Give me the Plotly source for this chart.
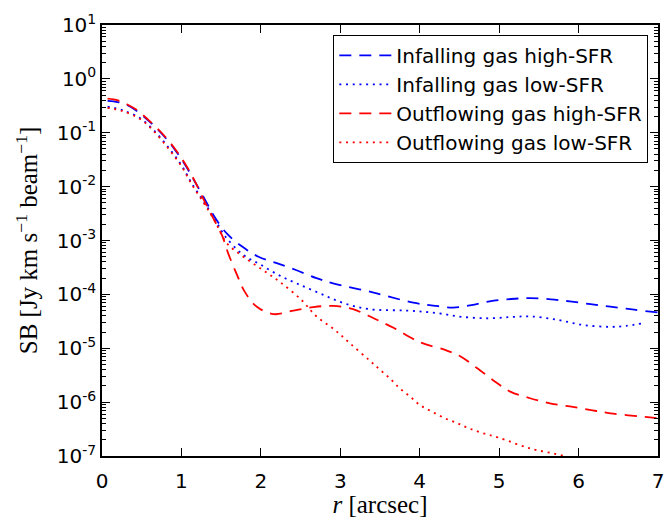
import plotly.graph_objects as go

# ---- data ----
inf_hi_x = [0.07, 0.2, 0.31, 0.43, 0.58, 0.75, 0.92, 1.05, 1.17, 1.30, 1.42, 1.57, 1.76, 1.97, 2.2, 2.45, 2.7, 2.91, 3.42, 3.92, 4.17, 4.42, 4.65, 4.88, 5.15, 5.39, 5.65, 5.89, 6.15, 6.40, 6.7, 7.0]
inf_hi_y = [0.39, 0.37, 0.33, 0.26, 0.17, 0.097, 0.048, 0.025, 0.0123, 0.0056, 0.0027, 1.35e-3, 7.8e-4, 5.0e-4, 3.8e-4, 2.8e-4, 2.0e-4, 1.6e-4, 1.08e-4, 7.0e-5, 6.2e-5, 5.7e-5, 6.3e-5, 7.4e-5, 8.2e-5, 8.5e-5, 8.1e-5, 7.4e-5, 6.6e-5, 5.9e-5, 5.2e-5, 4.6e-5]

inf_lo_x = [0.07, 0.25, 0.48, 0.65, 0.83, 1.0, 1.13, 1.28, 1.42, 1.55, 1.78, 1.99, 2.22, 2.45, 2.74, 3.04, 3.37, 3.84, 4.21, 4.55, 4.88, 5.15, 5.39, 5.72, 6.06, 6.40, 6.6, 6.8]
inf_lo_y = [0.305, 0.265, 0.186, 0.112, 0.055, 0.025, 0.0115, 0.0053, 0.0025, 1.2e-3, 5.4e-4, 3.6e-4, 2.3e-4, 1.6e-4, 1.05e-4, 6.9e-5, 5.3e-5, 5.0e-5, 4.5e-5, 3.8e-5, 3.6e-5, 3.8e-5, 3.9e-5, 3.4e-5, 2.7e-5, 2.5e-5, 2.6e-5, 2.9e-5]

out_hi_x = [0.07, 0.2, 0.31, 0.43, 0.58, 0.75, 0.92, 1.05, 1.17, 1.30, 1.40, 1.51, 1.59, 1.70, 1.80, 1.95, 2.16, 2.41, 2.66, 2.91, 3.16, 3.42, 3.67, 4.0, 4.32, 4.51, 4.72, 4.95, 5.14, 5.39, 5.64, 5.89, 6.14, 6.40, 6.90, 7.0]
out_hi_y = [0.43, 0.40, 0.34, 0.27, 0.175, 0.10, 0.05, 0.026, 0.0125, 0.0050, 0.0026, 1.26e-3, 5.7e-4, 2.3e-4, 1.1e-4, 5.9e-5, 4.3e-5, 5.0e-5, 5.8e-5, 6.1e-5, 5.3e-5, 3.6e-5, 2.4e-5, 1.3e-5, 9.3e-6, 7.1e-6, 4.3e-6, 2.4e-6, 1.57e-6, 1.18e-6, 9.5e-7, 8.3e-7, 7.2e-7, 6.2e-7, 5.2e-7, 5.0e-7]

out_lo_x = [0.07, 0.25, 0.48, 0.65, 0.83, 1.0, 1.13, 1.28, 1.42, 1.57, 1.78, 2.03, 2.24, 2.51, 2.70, 2.93, 3.12, 3.37, 3.50, 3.63, 3.75, 3.88, 4.0, 4.15, 4.32, 4.47, 4.61, 4.78, 4.99, 5.39, 5.74, 6.0, 6.5, 7.0]
out_lo_y = [0.29, 0.255, 0.18, 0.108, 0.052, 0.024, 0.011, 0.005, 0.0023, 9.0e-4, 5.0e-4, 2.8e-4, 1.7e-4, 7.9e-5, 3.9e-5, 2.2e-5, 1.24e-5, 5.9e-6, 4.0e-6, 2.7e-6, 1.8e-6, 1.26e-6, 8.9e-7, 6.7e-7, 5.0e-7, 4.1e-7, 3.3e-7, 2.7e-7, 2.2e-7, 1.38e-7, 1.07e-7, 8.5e-8, 6.0e-8, 4.0e-8]

names = ["Infalling gas high-SFR", "Infalling gas low-SFR",
         "Outflowing gas high-SFR", "Outflowing gas low-SFR"]

y_tick_vals = [1e-7, 1e-6, 1e-5, 1e-4, 1e-3, 1e-2, 1e-1, 1e0, 1e1]
y_tick_text = ["10<sup>-7</sup>", "10<sup>-6</sup>", "10<sup>-5</sup>", "10<sup>-4</sup>",
               "10<sup>-3</sup>", "10<sup>-2</sup>", "10<sup>-1</sup>", "10<sup>0</sup>", "10<sup>1</sup>"]
x_tick_vals = [0, 1, 2, 3, 4, 5, 6, 7]

DASH = "12px,8px"
DOT = "2px,4.7px"

series = [
    (inf_hi_x, inf_hi_y, names[0], "#0000ff", DASH),
    (inf_lo_x, inf_lo_y, names[1], "#0000ff", DOT),
    (out_hi_x, out_hi_y, names[2], "#ff0000", DASH),
    (out_lo_x, out_lo_y, names[3], "#ff0000", DOT),
]

fig = go.Figure()
for i, (xs, ys, nm, col, dash) in enumerate(series):
    fig.add_trace(go.Scatter(
        x=xs, y=ys, name=nm, mode="lines", line_shape="spline",
        line=dict(color=col, width=1.8, dash=dash),
    ))

axis_common = dict(
    showline=True, linecolor="black", linewidth=1.5, mirror="allticks",
    ticks="inside", tickcolor="black", ticklen=8, tickwidth=1,
    showgrid=False, zeroline=False, automargin=False,
    tickfont=dict(family="DejaVu Sans", size=20, color="black"),
)

fig.update_xaxes(
    range=[0, 7], tickmode="array", tickvals=x_tick_vals,
    ticktext=[str(v) for v in x_tick_vals], ticklabelstandoff=6,
    title=dict(text="<i>r</i> [arcsec]", standoff=9,
               font=dict(family="Liberation Serif", size=25, color="black")),
    **axis_common,
)
fig.update_yaxes(
    type="log", range=[-7, 1], tickmode="array", tickvals=y_tick_vals,
    ticktext=y_tick_text,
    minor=dict(ticks="inside", ticklen=4, tickcolor="black", tickwidth=1,
               dtick="D1", showgrid=False),
    title=dict(text="SB [Jy km s<sup>−1</sup> beam<sup>−1</sup>]", standoff=12,
               font=dict(family="Liberation Serif", size=25, color="black")),
    **axis_common,
)

fig.update_layout(
    width=665, height=518,
    margin=dict(l=102, r=7, t=25, b=62),
    paper_bgcolor="white", plot_bgcolor="white",
    showlegend=True,
    legend=dict(
        x=0.9826, xanchor="right", y=0.977, yanchor="top",
        bgcolor="white", bordercolor="black", borderwidth=1,
        font=dict(family="DejaVu Sans", size=20, color="black"),
        itemwidth=52,
    ),
)

fig.write_html("out.html", config={"displayModeBar": False},
               post_script="document.body.style.margin='0';document.body.style.overflow='hidden';")
